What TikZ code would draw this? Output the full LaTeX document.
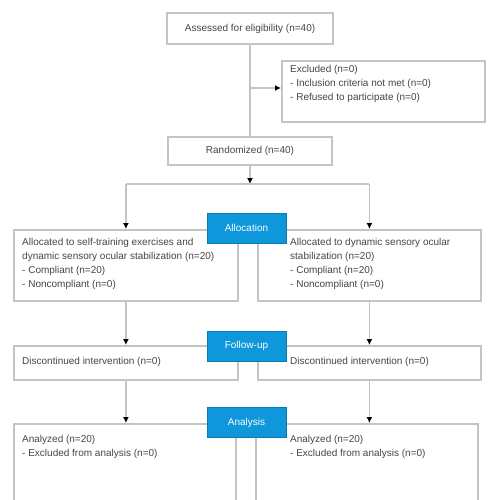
\documentclass[tikz,border=0pt]{standalone}
\usepackage{fontspec}
\setmainfont{Liberation Sans}
\usetikzlibrary{arrows.meta,calc}
\definecolor{lblue}{RGB}{14,152,219}
\definecolor{lgray}{RGB}{196,196,196}
\definecolor{tgray}{RGB}{70,70,70}
\begin{document}
\begin{tikzpicture}[x=1pt,y=-1pt,
  box/.style={draw=lgray,line width=1.8pt,rectangle,inner sep=0pt,anchor=north west},
  cbox/.style={draw=lgray,line width=1.8pt,rectangle,inner sep=0pt,font=\fontsize{10}{14}\selectfont,text=tgray},
  txt/.style={font=\fontsize{10}{14}\selectfont,text=tgray,align=left,inner sep=0pt,anchor=north west},
  stage/.style={fill=lblue,draw=lblue!80!black,line width=0.6pt,text=white,font=\fontsize{10}{12}\selectfont,minimum width=79pt,minimum height=30pt,inner sep=0pt},
  conn/.style={draw=lgray,line width=1.8pt},
  arr/.style={conn,-{Latex[color=black,length=6pt,width=6pt]}}]
\useasboundingbox (0,0) rectangle (500,500);
\clip (0,0) rectangle (500,500);
\fill[white] (0,0) rectangle (500,500);

% boxes
\node[cbox,minimum width=166pt,minimum height=31pt] (assess) at (250,28.5) {Assessed for eligibility (n=40)};
\node[box,minimum width=203pt,minimum height=61pt] (exc) at (281,60) {};
\node[txt] (exct) at (290,65) {Excluded (n=0)\\- Inclusion criteria not met (n=0)\\- Refused to participate (n=0)};
\node[cbox,minimum width=164pt,minimum height=28pt] (rand) at (250,151) {Randomized (n=40)};

\node[box,minimum width=224pt,minimum height=71pt] (la) at (13,229) {};
\node[txt] (lat) at (22,238) {Allocated to self-training exercises and\\dynamic sensory ocular stabilization (n=20)\\- Compliant (n=20)\\- Noncompliant (n=0)};
\node[box,minimum width=223pt,minimum height=71pt] (ra) at (257,229) {};
\node[txt] (rat) at (290,238) {Allocated to dynamic sensory ocular\\stabilization (n=20)\\- Compliant (n=20)\\- Noncompliant (n=0)};

\node[box,minimum width=224pt,minimum height=34pt] (lf) at (13,345) {};
\node[txt] (lft) at (22,357) {Discontinued intervention (n=0)};
\node[box,minimum width=223pt,minimum height=34pt] (rf) at (257,345) {};
\node[txt] (rft) at (290,357) {Discontinued intervention (n=0)};

\node[box,minimum width=222pt,minimum height=120pt] (ln) at (13,423) {};
\node[txt] (lnt) at (22,435) {Analyzed (n=20)\\- Excluded from analysis (n=0)};
\node[box,minimum width=222pt,minimum height=120pt] (rn) at (255,423) {};
\node[txt] (rnt) at (290,435) {Analyzed (n=20)\\- Excluded from analysis (n=0)};

% connectors
\draw[conn] (assess.south) -- (rand.north);
\coordinate (exj) at (250,88);
\draw[arr] (exj) -- (exj -| exc.west);
\coordinate (split) at (250,184);
\draw[arr] (rand.south) -- (split);
\draw[conn] (split -| la.north) -- (split -| ra.north);
\draw[arr] (split -| la.north) -- (la.north);
\draw[arr] (split -| ra.north) -- (ra.north);
\draw[arr] (la.south) -- (lf.north);
\draw[arr] (ra.south) -- (rf.north);
\draw[arr] (lf.south) -- (lf.south |- ln.north);
\draw[arr] (rf.south) -- (rf.south |- rn.north);

% stage labels
\node[stage] (alloc) at (246.5,228) {Allocation};
\node[stage] (follow) at (246.5,346) {Follow-up};
\node[stage] (anal) at (246.5,422.5) {Analysis};
\end{tikzpicture}
\end{document}
